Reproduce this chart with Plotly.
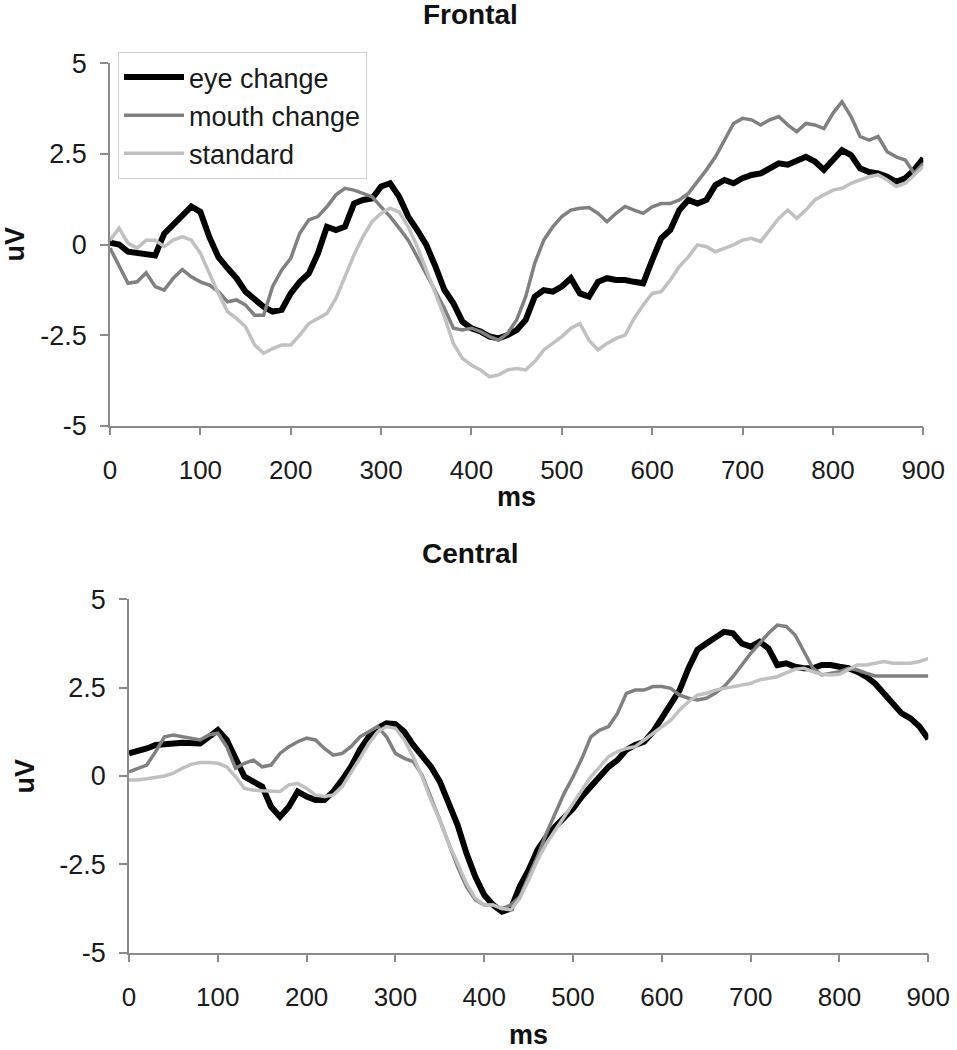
import plotly.graph_objects as go

ms = list(range(0, 901, 10))

frontal_eye = [0.05, 0.0, -0.2, -0.22, -0.25, -0.3, 0.3, 0.58, 0.8, 1.05,
               0.9, 0.2, -0.35, -0.65, -0.93, -1.3, -1.53, -1.72, -1.85, -1.8,
               -1.35, -1.03, -0.8, -0.25, 0.49, 0.4, 0.49, 1.13, 1.23, 1.27,
               1.6, 1.69, 1.32, 0.77, 0.4, -0.01, -0.6, -1.25, -1.62, -2.13,
               -2.31, -2.4, -2.54, -2.59, -2.5, -2.36, -2.08, -1.44, -1.26, -1.3,
               -1.16, -0.93, -1.35, -1.44, -1.03, -0.93, -0.98, -0.98, -1.03, -1.07,
               -0.43, 0.17, 0.4, 0.95, 1.23, 1.13, 1.23, 1.64, 1.78, 1.69,
               1.83, 1.92, 1.96, 2.1, 2.24, 2.2, 2.33, 2.42, 2.29, 2.06,
               2.33, 2.6, 2.47, 2.1, 2.0, 1.96, 1.87, 1.73, 1.83, 2.06,
               2.38]
frontal_mouth = [-0.1, -0.6, -1.07, -1.03, -0.78, -1.16, -1.26, -0.93, -0.69, -0.89,
                 -1.03, -1.12, -1.3, -1.58, -1.53, -1.67, -1.95, -1.95, -1.16, -0.7,
                 -0.38, 0.31, 0.68, 0.77, 1.04, 1.37, 1.55, 1.5, 1.41, 1.32,
                 1.04, 0.77, 0.45, 0.12, -0.34, -0.8, -1.26, -1.76, -2.31, -2.36,
                 -2.31, -2.4, -2.54, -2.64, -2.45, -2.08, -1.44, -0.52, 0.12, 0.49,
                 0.77, 0.95, 1.0, 1.02, 0.86, 0.63, 0.86, 1.05, 0.95, 0.86,
                 1.04, 1.13, 1.13, 1.23, 1.41, 1.73, 2.06, 2.42, 2.88, 3.34,
                 3.48, 3.44, 3.3, 3.44, 3.53, 3.3, 3.11, 3.34, 3.3, 3.2,
                 3.62, 3.94, 3.53, 2.98, 2.88, 2.98, 2.56, 2.42, 2.33, 1.96,
                 2.24]
frontal_std = [0.12, 0.45, 0.03, -0.1, 0.12, 0.12, -0.06, 0.12, 0.22, 0.12,
               -0.24, -0.8, -1.35, -1.85, -2.04, -2.27, -2.77, -3.0, -2.87, -2.77,
               -2.77, -2.5, -2.18, -2.04, -1.9, -1.49, -0.89, -0.29, 0.22, 0.63,
               0.86, 1.0, 0.9, 0.49, -0.06, -0.7, -1.35, -1.99, -2.73, -3.14,
               -3.33, -3.46, -3.65, -3.6, -3.46, -3.42, -3.46, -3.23, -2.91, -2.73,
               -2.54, -2.31, -2.18, -2.64, -2.91, -2.73, -2.59, -2.5, -2.04, -1.67,
               -1.35, -1.3, -0.98, -0.61, -0.34, -0.01, -0.06, -0.2, -0.1, -0.01,
               0.12, 0.17, 0.08, 0.4, 0.72, 0.95, 0.72, 0.95, 1.23, 1.37,
               1.5, 1.55, 1.69, 1.78, 1.87, 1.92, 1.78, 1.6, 1.69, 1.92,
               2.15]

central_eye = [0.64, 0.69, 0.78, 0.88, 0.92, 0.92, 0.94, 0.92, 0.92, 1.11,
               1.3, 1.02, 0.45, -0.02, -0.16, -0.3, -0.87, -1.15, -0.87, -0.44,
               -0.58, -0.68, -0.68, -0.44, -0.11, 0.26, 0.74, 1.11, 1.35, 1.49,
               1.47, 1.25, 0.88, 0.59, 0.26, -0.16, -0.73, -1.39, -2.19, -2.85,
               -3.37, -3.65, -3.84, -3.75, -3.13, -2.66, -2.09, -1.72, -1.43, -1.2,
               -0.92, -0.58, -0.3, 0.03, 0.26, 0.45, 0.74, 0.88, 0.97, 1.25,
               1.63, 2.0, 2.43, 3.05, 3.57, 3.75, 3.94, 4.08, 4.04, 3.75,
               3.66, 3.8, 3.61, 3.14, 3.19, 3.09, 3.05, 3.05, 3.14, 3.14,
               3.09, 3.05, 2.95, 2.81, 2.62, 2.34, 2.0, 1.77, 1.63, 1.4,
               1.05]
central_mouth = [0.12, 0.22, 0.31, 0.69, 1.11, 1.16, 1.11, 1.07, 1.02, 1.16,
                 1.21, 0.83, 0.22, 0.36, 0.45, 0.26, 0.31, 0.64, 0.83, 0.97,
                 1.07, 1.02, 0.78, 0.59, 0.64, 0.83, 1.11, 1.25, 1.4, 1.11,
                 0.64, 0.5, 0.41, 0.03, -0.58, -1.25, -1.91, -2.57, -3.13, -3.51,
                 -3.65, -3.65, -3.75, -3.65, -3.42, -2.85, -2.28, -1.62, -1.06, -0.49,
                 -0.02, 0.5, 1.11, 1.3, 1.4, 1.77, 2.34, 2.43, 2.43, 2.53,
                 2.53, 2.48, 2.29, 2.2, 2.15, 2.2, 2.34, 2.53, 2.81, 3.14,
                 3.47, 3.75, 4.04, 4.27, 4.23, 3.99, 3.52, 3.05, 2.86, 2.91,
                 2.95, 3.05, 3.0, 2.91, 2.83, 2.83, 2.83, 2.83, 2.83, 2.83,
                 2.83]
central_std = [-0.11, -0.11, -0.08, -0.04, 0.0, 0.08, 0.22, 0.33, 0.38, 0.38,
               0.36, 0.26, -0.02, -0.35, -0.4, -0.42, -0.44, -0.44, -0.25, -0.21,
               -0.35, -0.54, -0.58, -0.54, -0.3, 0.08, 0.5, 0.92, 1.25, 1.4,
               1.35, 1.02, 0.55, -0.02, -0.68, -1.25, -1.91, -2.47, -3.04, -3.46,
               -3.65, -3.65, -3.75, -3.79, -3.46, -2.94, -2.38, -1.91, -1.53, -1.15,
               -0.77, -0.4, -0.02, 0.26, 0.55, 0.69, 0.78, 0.83, 1.02, 1.21,
               1.4, 1.58, 1.87, 2.1, 2.29, 2.34, 2.43, 2.48, 2.53, 2.58,
               2.62, 2.72, 2.76, 2.81, 2.92, 3.02, 3.05, 2.95, 2.88, 2.86,
               2.88, 3.0, 3.14, 3.14, 3.19, 3.24, 3.19, 3.19, 3.19, 3.24,
               3.33]

series_names = ["eye change", "mouth change", "standard"]
ytick_vals = [-5, -2.5, 0, 2.5, 5]
ytick_text = ["-5", "-2.5", "0", "2.5", "5"]
xtick_vals = list(range(0, 901, 100))
panel_titles = ["Frontal", "Central"]

styles = [dict(color="#000000", width=6),
          dict(color="#808080", width=3.5),
          dict(color="#c0c0c0", width=3.5)]

W, H = 957, 1050
FONT = "Liberation Sans, Arial, sans-serif"
TXT = "#1a1a1a"

fig = go.Figure()

for i, (name, ys) in enumerate(zip(series_names, [frontal_eye, frontal_mouth, frontal_std])):
    fig.add_trace(go.Scatter(x=ms, y=ys, mode="lines", name=name,
                             line=styles[i], xaxis="x", yaxis="y",
                             legendgroup=name, showlegend=True))
for i, (name, ys) in enumerate(zip(series_names, [central_eye, central_mouth, central_std])):
    fig.add_trace(go.Scatter(x=ms, y=ys, mode="lines", name=name,
                             line=styles[i], xaxis="x2", yaxis="y2",
                             legendgroup=name, showlegend=False))

# panel pixel boxes
top = dict(x0=110, x1=923.3, y0=63.3, y1=425.7)
bot = dict(x0=129, x1=928.3, y0=599.3, y1=952.7)

def xdom(b):
    return [b["x0"] / W, b["x1"] / W]

def ydom(b):
    return [1 - b["y1"] / H, 1 - b["y0"] / H]

axis_common = dict(showline=True, linecolor="#8a8a8a", linewidth=1.5,
                   ticks="outside", ticklen=8, tickcolor="#8a8a8a", tickwidth=1.5,
                   showgrid=False, zeroline=False, automargin=False)

xfont = dict(family=FONT, size=26, color=TXT)
yfont = dict(family=FONT, size=27, color=TXT)

fig.update_layout(
    width=W, height=H,
    margin=dict(l=0, r=0, t=0, b=0, pad=0, autoexpand=False),
    paper_bgcolor="white", plot_bgcolor="white",
    font=dict(family=FONT, size=26, color=TXT),
    xaxis=dict(domain=xdom(top), range=[0, 900], anchor="y", tickfont=xfont,
               tickvals=xtick_vals, ticklabelstandoff=12, **axis_common),
    yaxis=dict(domain=ydom(top), range=[-5, 5], anchor="x", tickfont=yfont,
               tickvals=ytick_vals, ticktext=ytick_text, ticklabelstandoff=8, **axis_common),
    xaxis2=dict(domain=xdom(bot), range=[0, 900], anchor="y2", tickfont=xfont,
                tickvals=xtick_vals, ticklabelstandoff=12, **axis_common),
    yaxis2=dict(domain=ydom(bot), range=[-5, 5], anchor="x2", tickfont=yfont,
                tickvals=ytick_vals, ticktext=ytick_text, ticklabelstandoff=8, **axis_common),
    legend=dict(x=118 / W, y=1 - 52 / H, xanchor="left", yanchor="top",
                bgcolor="white", bordercolor="#d0d0d0", borderwidth=1,
                font=dict(family=FONT, size=27, color=TXT),
                tracegroupgap=0, itemwidth=60),
    showlegend=True,
)

ann = []
for title, cy in zip(panel_titles, [15, 553]):
    ann.append(dict(text="<b>" + title + "</b>", x=470 / W, y=1 - cy / H,
                    xref="paper", yref="paper", showarrow=False,
                    xanchor="center", yanchor="middle",
                    font=dict(family=FONT, size=28, color="#111111")))
for b, ylab_x, ms_y in [(top, 14, 497), (bot, 24.5, 1034.5)]:
    ann.append(dict(text="<b>ms</b>", x=(b["x0"] + b["x1"]) / 2 / W, y=1 - ms_y / H,
                    xref="paper", yref="paper", showarrow=False,
                    xanchor="center", yanchor="middle",
                    font=dict(family=FONT, size=27, color="#111111")))
    ann.append(dict(text="<b>uV</b>", x=ylab_x / W, y=1 - (b["y0"] + b["y1"]) / 2 / H,
                    xref="paper", yref="paper", showarrow=False, textangle=-90,
                    xanchor="center", yanchor="middle",
                    font=dict(family=FONT, size=27, color="#111111")))
fig.update_layout(annotations=ann)

fig.write_html("out.html",
               config={"displayModeBar": False},
               post_script="document.body.style.margin='0px';"
                           "document.body.style.padding='0px';"
                           "document.body.style.overflow='hidden';")
